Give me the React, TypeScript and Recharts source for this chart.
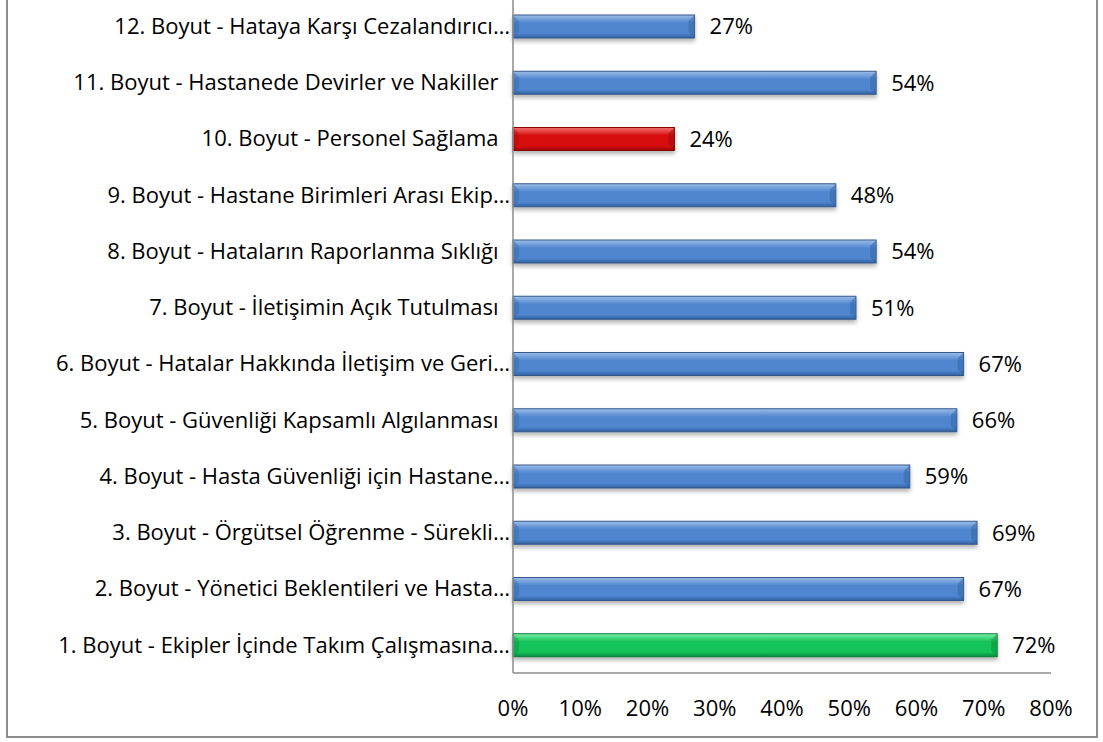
import React from 'react';
import { BarChart, Bar, XAxis, YAxis, LabelList } from 'recharts';

// top to bottom, as drawn
const categories = [
  '12. Boyut - Hataya Karşı Cezalandırıcı…',
  '11. Boyut - Hastanede Devirler ve Nakiller  ',
  '10. Boyut - Personel Sağlama  ',
  '9. Boyut - Hastane Birimleri Arası Ekip…',
  '8. Boyut - Hataların Raporlanma Sıklığı  ',
  '7. Boyut - İletişimin Açık Tutulması  ',
  '6. Boyut - Hatalar Hakkında İletişim ve Geri…',
  '5. Boyut - Güvenliği Kapsamlı Algılanması  ',
  '4. Boyut - Hasta Güvenliği için Hastane…',
  '3. Boyut - Örgütsel Öğrenme - Sürekli…',
  '2. Boyut - Yönetici Beklentileri ve Hasta…',
  '1. Boyut - Ekipler İçinde Takım Çalışmasına…',
];
const scores = [27, 54, 24, 48, 54, 51, 67, 66, 59, 69, 67, 72];
const tones = ['blue', 'blue', 'red', 'blue', 'blue', 'blue', 'blue', 'blue', 'blue', 'blue', 'blue', 'green'];
const xTicks = [0, 10, 20, 30, 40, 50, 60, 70, 80];

const data = categories.map((name, i) => ({ name, value: scores[i], tone: tones[i] }));

const PALETTE: Record<string, { light: string; mid: string; dark: string; edge: string }> = {
  blue: { light: '#9dbde9', mid: '#4f86cf', dark: '#2f5f9e', edge: '#36598a' },
  red: { light: '#f07070', mid: '#d81010', dark: '#9a0000', edge: '#8a0000' },
  green: { light: '#7ef0a8', mid: '#14c25a', dark: '#0a8a3c', edge: '#0d7a3a' },
};

const FONT = '"Open Sans", sans-serif';
const FS = 22;

const BevelBar = (props: any) => {
  const { x, y, width, height, payload } = props;
  if (!width || width <= 0) return null;
  const c = PALETTE[payload.tone];
  const b = 6;
  return (
    <g filter="url(#barShadow)">
      <rect x={x} y={y} width={width} height={height} fill={`url(#grad-${payload.tone})`} stroke={c.edge} strokeWidth={1} />
      <polygon points={`${x + 0.5},${y + 0.5} ${x + b},${y + b} ${x + b},${y + height - b} ${x + 0.5},${y + height - 0.5}`} fill={c.dark} opacity={0.35} />
      <polygon points={`${x + width - 0.5},${y + 0.5} ${x + width - b},${y + b} ${x + width - b},${y + height - b} ${x + width - 0.5},${y + height - 0.5}`} fill={c.dark} opacity={0.45} />
    </g>
  );
};

const CategoryTick = (props: any) => {
  const { x, y, payload } = props;
  return (
    <text x={x} y={y} dy="0.35em" textAnchor="end" fontFamily={FONT} fontSize={FS} fill="#000" xmlSpace="preserve" style={{ whiteSpace: 'pre' }}>
      {payload.value}
    </text>
  );
};

export default function App() {
  return (
    <div style={{ position: 'absolute', left: 0, top: 0, width: 1103, height: 742, overflow: 'hidden', background: '#fff' }}>
      <div
        style={{
          position: 'absolute',
          left: 6,
          top: -10,
          width: 1092,
          height: 748,
          border: '2px solid #8c8c8c',
          boxSizing: 'border-box',
        }}
      />
      <div style={{ position: 'absolute', left: 0, top: -20 }}>
        <BarChart
          width={1103}
          height={762}
          data={data}
          layout="vertical"
          margin={{ top: 18, right: 52, bottom: 39, left: 0 }}
          barSize={23}
        >
          <defs>
            {Object.keys(PALETTE).map((k) => (
              <linearGradient key={k} id={`grad-${k}`} x1="0" y1="0" x2="0" y2="1">
                <stop offset="0%" stopColor={PALETTE[k].light} />
                <stop offset="35%" stopColor={PALETTE[k].mid} />
                <stop offset="80%" stopColor={PALETTE[k].mid} />
                <stop offset="100%" stopColor={PALETTE[k].dark} />
              </linearGradient>
            ))}
            <filter id="barShadow" x="-5%" y="-30%" width="110%" height="180%">
              <feDropShadow dx="0" dy="3" stdDeviation="2" floodColor="#000" floodOpacity="0.3" />
            </filter>
          </defs>
          <XAxis
            type="number"
            domain={[0, 80]}
            ticks={xTicks}
            tickFormatter={(v: number) => `${v}%`}
            axisLine={{ stroke: '#8c8c8c', strokeWidth: 1.5 }}
            tickLine={false}
            tickSize={0}
            tickMargin={27}
            height={30}
            tick={{ fontFamily: FONT, fontSize: FS, fill: '#000' }}
          />
          <YAxis
            type="category"
            dataKey="name"
            width={513}
            axisLine={{ stroke: '#8c8c8c', strokeWidth: 1.5 }}
            tickLine={false}
            tickSize={0}
            tickMargin={3}
            interval={0}
            tick={<CategoryTick />}
          />
          <Bar dataKey="value" shape={<BevelBar />} isAnimationActive={false}>
            <LabelList
              dataKey="value"
              position="right"
              offset={15}
              formatter={(v: any) => `${v}%`}
              style={{ fontFamily: FONT, fontSize: FS, fill: '#000' }}
            />
          </Bar>
        </BarChart>
      </div>
    </div>
  );
}
